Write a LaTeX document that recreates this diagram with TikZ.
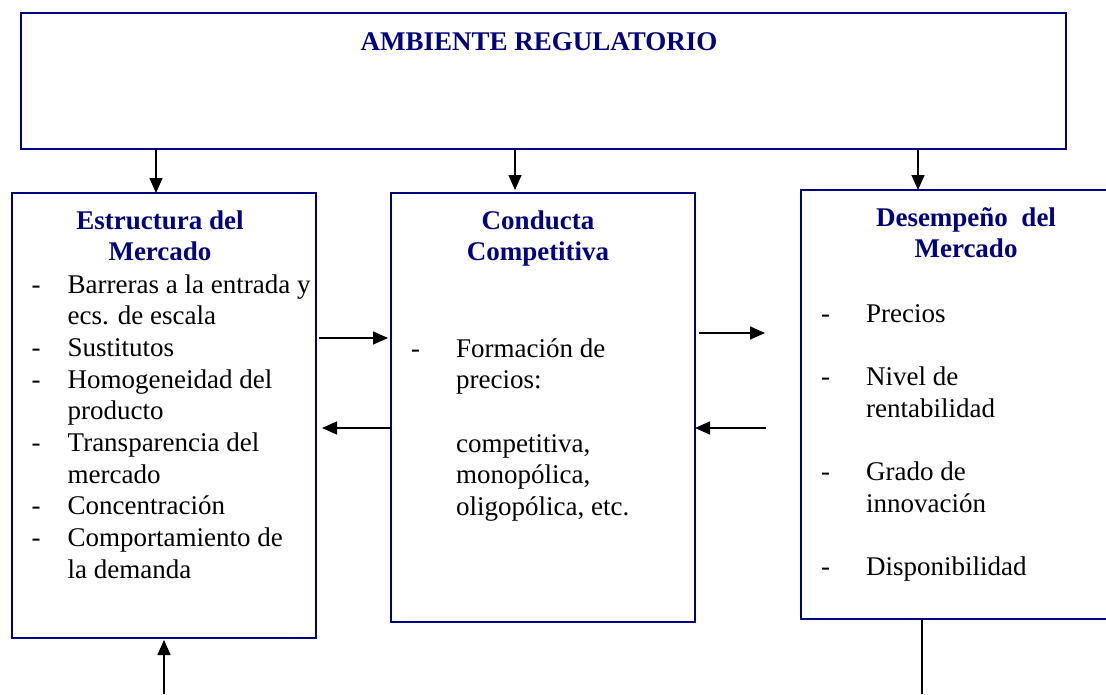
\documentclass[tikz,border=0pt]{standalone}
\usepackage{fontspec}
\setmainfont{Liberation Serif}
\usetikzlibrary{arrows.meta}
\definecolor{azulmarino}{RGB}{0, 0, 128}

\begin{document}
\begin{tikzpicture}[x=1pt, y=-1pt,
    caja/.style={draw=azulmarino, line width=1.6pt, inner sep=0pt, outer sep=0pt, anchor=north west},
    titulo/.style={text=azulmarino, font=\fontsize{27}{31.7}\selectfont\bfseries, inner sep=0pt, anchor=base},
    lista/.style={font=\fontsize{27}{31.7}\selectfont, inner sep=0pt, anchor=base west},
    flecha/.style={-{Triangle[length=15pt, width=13pt]}, line width=1.4pt},
    linea/.style={line width=1.4pt}]
  \clip (0,0) rectangle (1106,694);

  % Cajas
  \node[caja, minimum width=1045pt, minimum height=136pt] (ambiente) at (21,13) {};
  \node[caja, minimum width=304pt, minimum height=445pt] (estructura) at (12,193) {};
  \node[caja, minimum width=304pt, minimum height=429pt] (conducta) at (391,193) {};
  \node[caja, minimum width=330pt, minimum height=429pt] (desempeno) at (801,190) {};

  % Titulos
  \node[titulo] (tamb) at (539,50) {AMBIENTE REGULATORIO};
  \node[titulo] (test) at (160,229) {\begin{tabular}[t]{@{}c@{}}Estructura del\\ Mercado\end{tabular}};
  \node[titulo] (tcon) at (538,229) {\begin{tabular}[t]{@{}c@{}}Conducta\\ Competitiva\end{tabular}};
  \node[titulo] (tdes) at (966,226) {\begin{tabular}[t]{@{}c@{}}Desempeño\ \ del\\ Mercado\end{tabular}};

  % Listas
  \node[lista] (lest) at (31.5,293) {\begin{tabular}[t]{@{}p{36pt}@{}l@{}}
    - & Barreras a la entrada y\\
      & ecs. de escala\\
    - & Sustitutos\\
    - & Homogeneidad del\\
      & producto\\
    - & Transparencia del\\
      & mercado\\
    - & Concentración\\
    - & Comportamiento de\\
      & la demanda
  \end{tabular}};
  \node[lista] (lcon) at (411,357) {\begin{tabular}[t]{@{}p{45pt}@{}l@{}}
    - & Formación de\\
      & precios:\\
      & \\
      & competitiva,\\
      & monopólica,\\
      & oligopólica, etc.
  \end{tabular}};
  \node[lista] (ldes) at (821,322) {\begin{tabular}[t]{@{}p{45pt}@{}l@{}}
    - & Precios\\
      & \\
    - & Nivel de\\
      & rentabilidad\\
      & \\
    - & Grado de\\
      & innovación\\
      & \\
    - & Disponibilidad
  \end{tabular}};

  % Flechas
  \coordinate (x1) at (156,0);
  \coordinate (x2) at (515,0);
  \coordinate (x3) at (918,0);
  \coordinate (ya) at (0,338);
  \coordinate (yb) at (0,428);
  \coordinate (yc) at (0,333);
  \coordinate (c1) at (765,333);
  \coordinate (d0) at (766,428);
  \coordinate (e0) at (164,694);
  \coordinate (f1) at (922,694);

  \draw[flecha] (ambiente.south -| x1) -- (estructura.north -| x1);
  \draw[flecha, shorten >=3pt] (ambiente.south -| x2) -- (conducta.north -| x2);
  \draw[flecha] (ambiente.south -| x3) -- (desempeno.north -| x3);

  \draw[flecha, shorten <=3pt, shorten >=3pt] (estructura.east |- ya) -- (conducta.west |- ya);
  \draw[flecha, shorten >=6pt] (conducta.west |- yb) -- (estructura.east |- yb);
  \draw[flecha, shorten <=4pt] (conducta.east |- yc) -- (c1);
  \draw[flecha] (d0) -- (conducta.east |- yb);

  \draw[flecha, shorten >=2pt] (e0) -- (estructura.south -| e0);
  \draw[linea] (desempeno.south -| f1) -- (f1);
\end{tikzpicture}
\end{document}
